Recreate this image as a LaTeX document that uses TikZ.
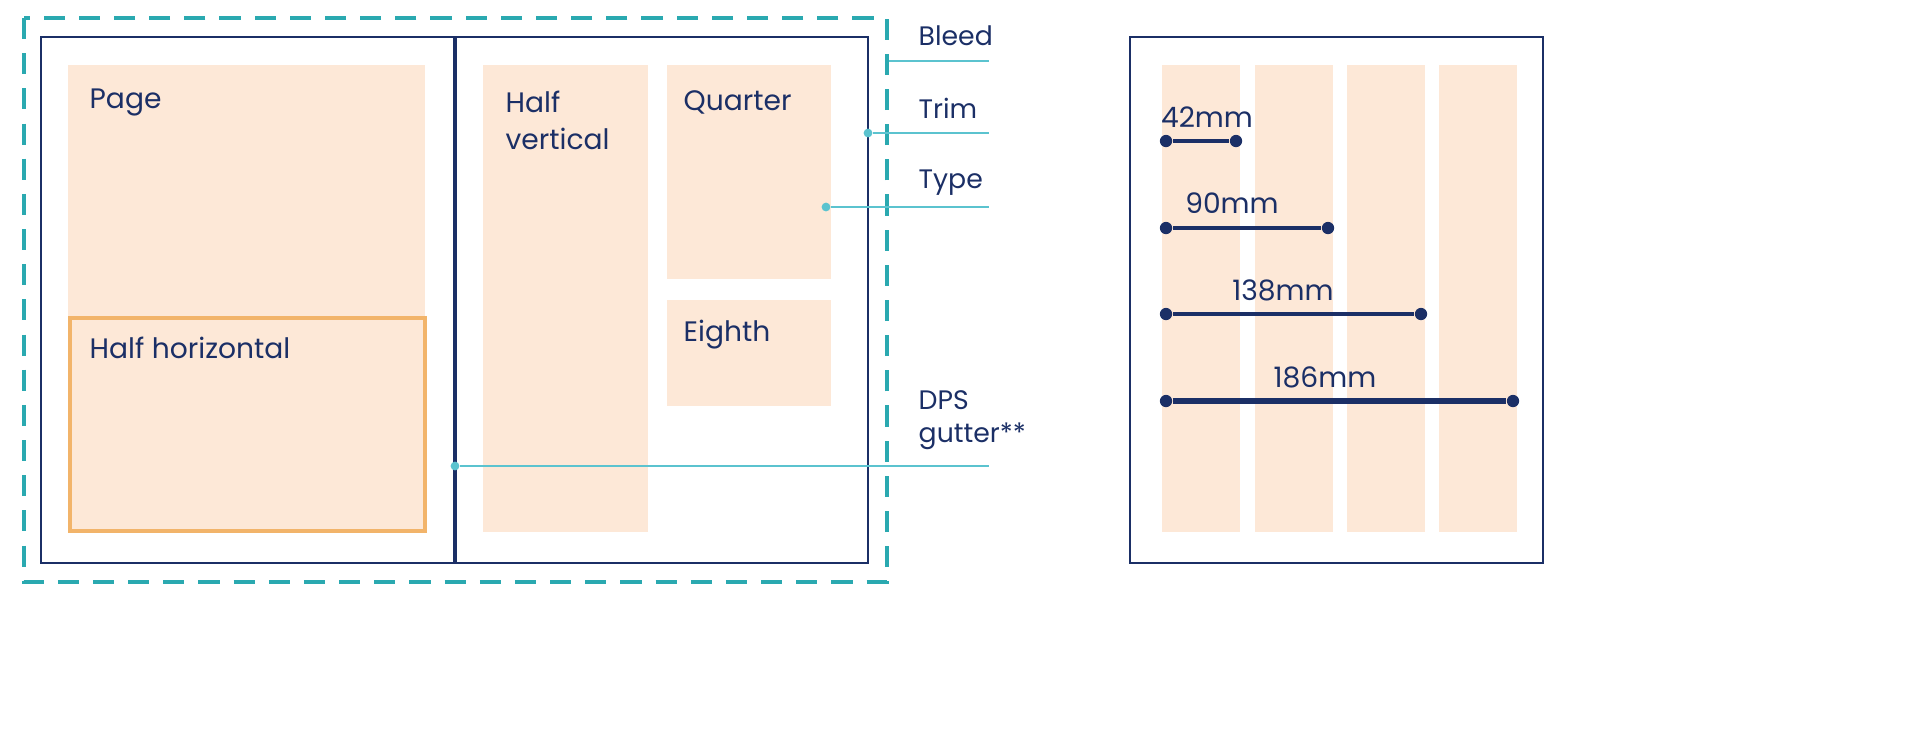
\documentclass[tikz,border=0pt]{standalone}
\usepackage{fontspec}
\setmainfont{Poppins}
\usetikzlibrary{positioning}
\definecolor{navy}{HTML}{1B2F66}
\definecolor{bleedteal}{HTML}{2AA9B0}
\definecolor{leader}{HTML}{5BC3CF}
\definecolor{peach}{HTML}{FDE8D7}
\definecolor{amber}{HTML}{F2B46A}
\tikzset{
  trimbox/.style = {draw=navy, line width=0.4pt},
  typearea/.style = {fill=peach},
  areatext/.style = {anchor=west, text=navy, font=\fontsize{8}{10.5}\selectfont, inner sep=0pt, align=left},
  sidetext/.style = {anchor=west, text=navy, font=\fontsize{7.6}{9.5}\selectfont, inner sep=0pt, align=left},
  leaderline/.style = {draw=leader, line width=0.4pt},
  dimline/.style = {draw=navy, line width=1pt},
  enddot/.style = {circle, fill=navy, inner sep=0pt, minimum size=3.5pt}
}
\begin{document}
\begin{tikzpicture}[x=0.01cm, y=-0.01cm]
\useasboundingbox (0,0) rectangle (1920,732);

% ===== Spread =====
\fill[typearea] (68,65) rectangle (425,532);
\draw[amber, line width=1.2pt] (70,318) rectangle (425,531);
\fill[typearea] (483,65) rectangle (648,532);
\fill[typearea] (667,65) rectangle (831,279);
\fill[typearea] (667,300) rectangle (831,406);
\draw[trimbox] (41,37) rectangle (454,563);
\draw[trimbox] (456,37) rectangle (868,563);
\draw[bleedteal, line width=1.3pt, dash pattern=on 6pt off 4pt] (24,18) rectangle (887,582);

\node (page) [areatext] at (89,102) {Page};
\node (halfh) [areatext] at (89,348) {Half horizontal};
\node (halfv) [areatext] at (505,120) {Half\\vertical};
\node (quarter) [areatext] at (683,102) {Quarter};
\node (eighth) [areatext] at (683,335) {Eighth};

% ===== Leader labels =====
\node (bleed) [sidetext] at (918,36) {Bleed};
\node (trim) [sidetext] at (918,108) {Trim};
\node (type) [sidetext] at (918,183) {Type};
\node (dps) [sidetext] at (918,420) {DPS\\gutter**};

\coordinate (bleedend) at (989,61);
\coordinate (trimend) at (989,133);
\coordinate (typeend) at (989,207);
\coordinate (dpsend) at (989,466);
\node (bleeddot) [inner sep=0pt] at (887,61) {};
\node (trimdot) [circle, fill=leader, inner sep=0pt, minimum size=2.5pt] at (868,133) {};
\node (typedot) [circle, fill=leader, inner sep=0pt, minimum size=2.5pt] at (826,207) {};
\node (dpsdot) [circle, fill=leader, inner sep=0pt, minimum size=2.5pt] at (455,466) {};

\draw[leaderline] (bleeddot) -- (bleedend);
\draw[leaderline] (trimdot) -- (trimend);
\draw[leaderline] (typedot) -- (typeend);
\draw[leaderline] (dpsdot) -- (dpsend);

% ===== Column grid =====
\foreach \xa/\xb in {1162/1240, 1255/1333, 1347/1425, 1439/1517}
  \fill[typearea] (\xa,65) rectangle (\xb,532);
\draw[trimbox] (1130,37) rectangle (1543,563);

\foreach \name/\y/\xend/\lw in {a/141/1236/1pt, b/228/1328/1.2pt, c/314/1421/1.4pt, d/401/1513/1.6pt} {
  \node (\name start) [enddot] at (1166,\y) {};
  \node (\name end) [enddot] at (\xend,\y) {};
  \draw[dimline, line width=\lw] (\name start) -- (\name end);
}
\node (wa) [text=navy, font=\fontsize{8}{10}\selectfont, inner sep=0pt] at (1207,117) {42mm};
\node (wb) [text=navy, font=\fontsize{8}{10}\selectfont, inner sep=0pt] at (1232,203) {90mm};
\node (wc) [text=navy, font=\fontsize{8}{10}\selectfont, inner sep=0pt] at (1283,290) {138mm};
\node (wd) [text=navy, font=\fontsize{8}{10}\selectfont, inner sep=0pt] at (1325,377) {186mm};

\end{tikzpicture}
\end{document}
